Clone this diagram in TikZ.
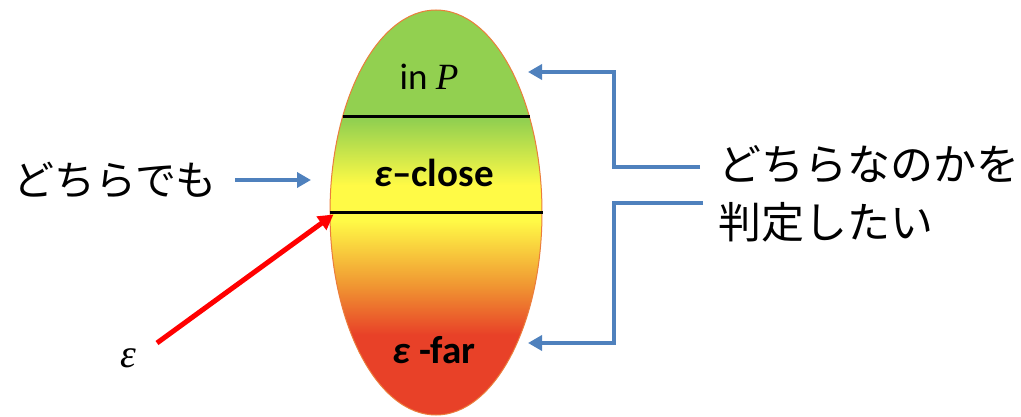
\documentclass[tikz,border=0pt]{standalone}
\usepackage{fontspec}
\setmainfont{Carlito}
\newfontfamily\jp{Noto Sans CJK JP}
\newfontfamily\cambria{Liberation Serif}
\usetikzlibrary{shapes.geometric,arrows.meta}
\definecolor{egggreen}{RGB}{146,208,80}
\definecolor{eggyellow}{RGB}{255,250,70}
\definecolor{eggorange}{RGB}{240,150,50}
\definecolor{eggred}{RGB}{232,65,40}
\definecolor{eggrim}{RGB}{235,125,60}
\definecolor{arrowblue}{RGB}{79,129,189}
\pgfdeclareverticalshading{eggshade}{100bp}{color(0bp)=(eggred); color(34.9bp)=(eggred); color(41bp)=(eggorange); color(49bp)=(eggyellow); color(53.4bp)=(eggyellow); color(61.4bp)=(egggreen); color(100bp)=(egggreen)}
\tikzset{
  bluearrow/.style={draw=arrowblue, line width=4.5pt, -{Triangle[length=14pt,width=15pt]}},
  redarrow/.style={draw=red, line width=5pt, -{Triangle[length=15pt,width=16pt]}},
  divider/.style={draw=black, line width=3pt},
  egglabel/.style={font=\fontsize{39}{44}\selectfont, inner sep=0pt},
  jplabel/.style={font=\jp\fontsize{41}{58}\selectfont, inner sep=0pt},
}
\begin{document}
\begin{tikzpicture}[x=1pt,y=-1pt]
\useasboundingbox (0,0) rectangle (1021,417);
\node[ellipse, minimum width=212pt, minimum height=405pt, inner sep=0pt, shading=eggshade, draw=eggrim, line width=1pt] (egg) at (436,212.5) {};
\coordinate (l1a) at (342.5,117);
\coordinate (l1b) at (529.5,117);
\draw[divider] (l1a) -- (l1b);
\draw[divider] (egg.west) -- (egg.east);
\node[egglabel, font=\fontsize{37}{44}\selectfont] (inp) at (429,77) {in {\cambria\itshape P}};
\node[egglabel] (close) at (434,173) {\bfseries{\itshape ε}–close};
\node[egglabel] (far) at (434,350) {\bfseries{\itshape ε} -far};
\node[jplabel, anchor=west] (either) at (13,180) {どちらでも};
\coordinate (eitherend) at (235,180);
\coordinate (eithertip) at (311,180);
\draw[bluearrow] (eitherend) -- (eithertip);
\node[font=\cambria\itshape\fontsize{40}{44}\selectfont, inner sep=0pt] (eps) at (128,358) {ε};
\coordinate (epsstart) at (157,343);
\draw[redarrow] (epsstart) -- ([xshift=4pt,yshift=-2pt]egg.west);
\node[jplabel, font=\jp\fontsize{43}{58}\selectfont, anchor=west, align=left] (judge) at (718,194) {どちらなのかを\\判定したい};
\coordinate (topstart) at (700,167);
\coordinate (toptip) at (528,72);
\coordinate (botstart) at (703,203);
\coordinate (bottip) at (528,343);
\draw[bluearrow] (topstart) -- (614,167) |- (toptip);
\draw[bluearrow] (botstart) -- (614,203) |- (bottip);
\end{tikzpicture}
\end{document}
